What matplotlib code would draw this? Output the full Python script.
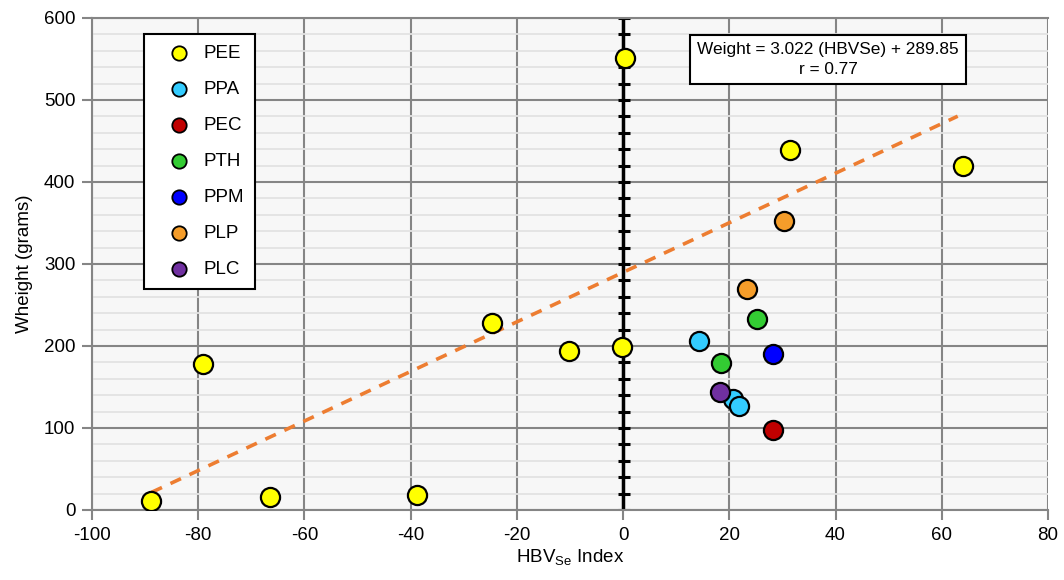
import matplotlib
matplotlib.use("Agg")
import matplotlib.pyplot as plt
import numpy as np

plt.rcParams['font.family'] = ['Liberation Sans', 'DejaVu Sans']
plt.rcParams['axes.unicode_minus'] = False

# ---- data ----
groups = ["PEE", "PPA", "PEC", "PTH", "PPM", "PLP", "PLC"]
colors = ["#FFFF00", "#33CCFF", "#C00000", "#33CC33", "#0000FF", "#F59D2A", "#7030A0"]
pee_x = [-88.8, -66.5, -38.9, -79.1, -24.7, -10.2, -0.2, 0.4, 31.5, 64.0]
pee_y = [11, 16, 18, 178, 228, 194, 199, 551, 439, 420]
ppa_x = [14.2, 20.7, 21.9]
ppa_y = [206.5, 135, 127]
pec_x = [28.2]
pec_y = [97.6]
pth_x = [25.3, 18.4]
pth_y = [232.5, 179]
ppm_x = [28.2]
ppm_y = [190]
plp_x = [30.3, 23.3]
plp_y = [353, 270]
plc_x = [18.2]
plc_y = [143.5]
slope = 3.022
intercept = 289.85
r_value = 0.77
x_ticks = list(range(-100, 81, 20))
y_ticks = list(range(0, 601, 100))

series_x = [pee_x, ppa_x, pec_x, pth_x, ppm_x, plp_x, plc_x]
series_y = [pee_y, ppa_y, pec_y, pth_y, ppm_y, plp_y, plc_y]

fig = plt.figure(figsize=(10.64, 5.80), dpi=100)
ax = fig.add_axes([92/1064, 1 - 510/580, (1048-92)/1064, (510-18)/580])
ax.set_facecolor("#F7F7F7")
ax.set_xlim(-100, 80)
ax.set_ylim(0, 600)
ax.set_xticks(x_ticks)
ax.set_yticks(y_ticks)
ax.set_yticks(list(range(0, 601, 20)), minor=True)
ax.grid(which='minor', axis='y', color="#E3E3E3", lw=1.3, zorder=0)
ax.grid(which='major', axis='both', color="#858585", lw=1.5, zorder=0.5)
ax.tick_params(axis='both', which='major', direction='out', length=7, width=1.5,
               color="#858585", labelsize=13.5, pad=5)
ax.tick_params(axis='y', which='minor', length=0)
for s in ax.spines.values():
    s.set_color("#858585")
    s.set_linewidth(1.5)
ax.spines['right'].set_visible(False)

# vertical zero line with cross ticks
ax.plot([0, 0], [0, 600], color="black", lw=2.5, zorder=2)
yt = list(range(0, 601, 20))
ax.plot([0.2] * len(yt), yt, linestyle='none', marker='_', markersize=9,
        markeredgewidth=2.2, color='black', zorder=2)

# trend line
all_x = [v for xs in series_x for v in xs]
xl = np.array([min(all_x), max(all_x) - 1.0])
ax.plot(xl, slope * xl + intercept, color="#ED7D31", lw=2.6, ls=(0, (3.2, 2.6)), zorder=3)

for g, c, xs, ys in zip(groups, colors, series_x, series_y):
    ax.scatter(xs, ys, s=190, c=c, edgecolors='black', linewidths=1.6, zorder=4, label=g)

leg = ax.legend(loc='upper left', bbox_to_anchor=(52/956, (510-34)/492), fontsize=13.5,
                labelspacing=1.0, handletextpad=0.05, borderpad=0.6,
                fancybox=False, framealpha=1, edgecolor='black',
                markerscale=0.75, handlelength=2.5, borderaxespad=0)
leg.get_frame().set_linewidth(1.5)
for h in leg.legend_handles:
    h.set_linewidth(1.3)

ax.text(0.770, 0.915, f"Weight = {slope:.3f} (HBVSe) + {intercept:.2f}\nr = {r_value:.2f}",
        transform=ax.transAxes, ha='center', va='center', fontsize=12.4,
        linespacing=1.4,
        bbox=dict(boxstyle='square,pad=0.42', fc='white', ec='black', lw=1.5), zorder=5)

ax.set_xlabel(r"HBV$_{\mathregular{Se}}$ Index", fontsize=13.5, labelpad=3)
ax.set_ylabel("Wheight (grams)", fontsize=13.5, labelpad=8)

fig.savefig("out.png", dpi=100)
